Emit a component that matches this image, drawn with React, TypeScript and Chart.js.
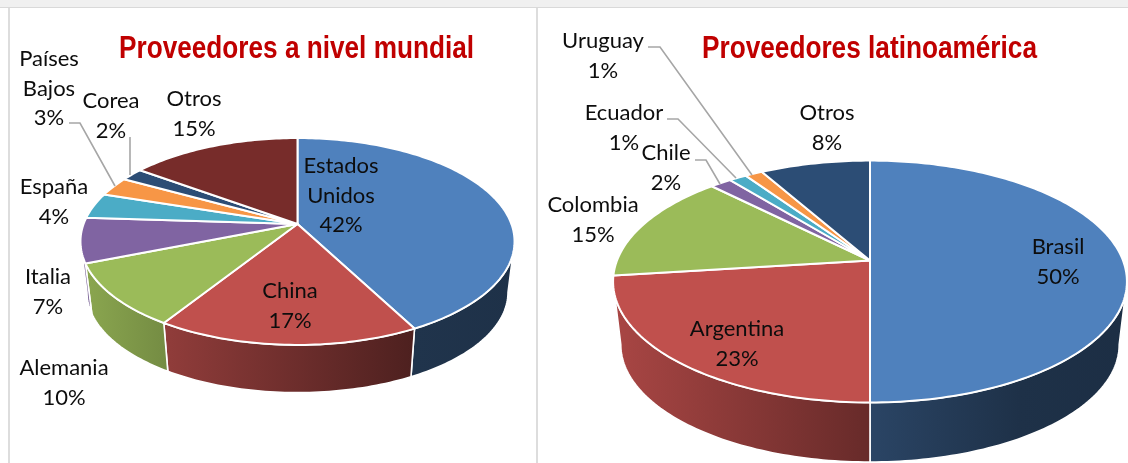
import React, { useEffect, useRef } from "react";
import { Chart, registerables } from "chart.js";

Chart.register(...registerables);

// ---- data ----
const worldCategories = ["Estados Unidos", "China", "Alemania", "Italia", "España", "Países Bajos", "Corea", "Otros"];
const worldValues = [42.3, 16.7, 10, 7, 4, 3, 2, 15];
const worldColors = ["#4F81BD", "#C0504D", "#9BBB59", "#8064A2", "#4BACC6", "#F79646", "#2C4D75", "#772C2A"];

const latamCategories = ["Brasil", "Argentina", "Colombia", "Chile", "Ecuador", "Uruguay", "Otros"];
const latamValues = [50, 23, 14.6, 1.6, 1.3, 1.3, 8.2];
const latamColors = ["#4F81BD", "#C0504D", "#9BBB59", "#8064A2", "#4BACC6", "#F79646", "#2C4D75"];

// ---- layout (page coordinates) ----
const LINE_H = 29.5;
const worldLabelPos = [[341, 166], [290, 291], [64, 368], [48, 277], [54, 187], [49, 59], [111, 101], [194, 99]];
const latamLabelPos = [[1058, 247], [737, 329], [593, 205], [666, 153], [624, 113], [603, 41], [827, 113]];
const worldLeaders = [[[69, 123], [80, 123], [115, 186]], [[130, 137], [130, 175]]];
const latamLeaders = [
  [[648, 47], [660, 47], [752, 175]],
  [[667, 119], [678, 119], [736, 178]],
  [[695, 160], [706, 160], [720, 184]],
];

type Geo = {
  cx: number; cy: number; a: number; b: number; k: number;
  depth: number; shrink: number;
  shade: number[][];
  titleX: number; titleW: number;
};
const worldGeo: Geo = {
  cx: 297.5, cy: 224, a: 100.5, b: 213.9, k: 0.169, depth: 51.3, shrink: 0.97,
  shade: [[80, 0.9], [160, 0.76], [415, 0.4], [514, 0.38]],
  titleX: 296.5, titleW: 355,
};
const latamGeo: Geo = {
  cx: 870, cy: 260.5, a: 117.3, b: 253, k: 0.174, depth: 63.8, shrink: 0.97,
  shade: [[613, 0.88], [875, 0.53], [1020, 0.38], [1127, 0.36]],
  titleX: 869.5, titleW: 335,
};

function hexRgb(h: string) {
  return [1, 3, 5].map((i) => parseInt(h.slice(i, i + 2), 16));
}

function tiltedPie(geo: Geo, ox: number, title: string, pos: number[][], leaders: number[][][]) {
  const proj = (al: number, low: boolean) => {
    const u = Math.cos(al), v = Math.sin(al);
    const d = 1 - geo.k * v;
    const s = low ? geo.shrink : 1;
    return [geo.cx - ox + (s * geo.b * u) / d, geo.cy + (low ? geo.depth : 0) + (s * geo.a * v) / d];
  };
  const samples = (a0: number, a1: number) => {
    const n = Math.max(2, Math.ceil(Math.abs(a1 - a0) / 0.02));
    const r: number[] = [];
    for (let i = 0; i <= n; i++) r.push(a0 + ((a1 - a0) * i) / n);
    return r;
  };
  return {
    id: "tiltedPie",
    beforeDatasetsDraw(chart: any) {
      const ctx: CanvasRenderingContext2D = chart.ctx;
      const arcs = chart.getDatasetMeta(0).data;
      const x0 = geo.shade[0][0], x1 = geo.shade[geo.shade.length - 1][0];
      const lo = Math.asin(geo.k), hi = Math.PI - lo;
      ctx.save();
      ctx.lineJoin = "round";
      arcs.forEach((arc: any) => {
        const s = arc.startAngle, e = arc.endAngle;
        const spans: number[][] = [];
        for (const off of [0, Math.PI * 2, -Math.PI * 2]) {
          const a = Math.max(s, lo + off), b = Math.min(e, hi + off);
          if (b > a) spans.push([a, b]);
        }
        const rgb = hexRgb(arc.options.backgroundColor);
        const g = ctx.createLinearGradient(x0 - ox, 0, x1 - ox, 0);
        geo.shade.forEach(([x, m]) => {
          g.addColorStop((x - x0) / (x1 - x0), `rgb(${rgb.map((c) => Math.round(c * m)).join(",")})`);
        });
        spans.forEach(([a, b]) => {
          ctx.beginPath();
          samples(a, b).forEach((t, i) => {
            const p = proj(t, false);
            i ? ctx.lineTo(p[0], p[1]) : ctx.moveTo(p[0], p[1]);
          });
          samples(b, a).forEach((t) => {
            const p = proj(t, true);
            ctx.lineTo(p[0], p[1]);
          });
          ctx.closePath();
          ctx.fillStyle = g;
          ctx.fill();
          ctx.strokeStyle = "#ffffff";
          ctx.lineWidth = 1.6;
          ctx.stroke();
        });
      });
      arcs.forEach((arc: any) => {
        ctx.beginPath();
        ctx.moveTo(geo.cx - ox, geo.cy);
        samples(arc.startAngle, arc.endAngle).forEach((t) => {
          const p = proj(t, false);
          ctx.lineTo(p[0], p[1]);
        });
        ctx.closePath();
        ctx.fillStyle = arc.options.backgroundColor;
        ctx.fill();
        ctx.strokeStyle = arc.options.borderColor;
        ctx.lineWidth = arc.options.borderWidth;
        ctx.stroke();
      });
      ctx.restore();
      return false;
    },
    afterDraw(chart: any) {
      const ctx: CanvasRenderingContext2D = chart.ctx;
      ctx.save();
      // title: bold grotesque narrowed horizontally
      ctx.font = "bold 32px 'Liberation Sans'";
      ctx.fillStyle = "#C00000";
      ctx.textAlign = "center";
      ctx.textBaseline = "alphabetic";
      const w = ctx.measureText(title).width;
      ctx.save();
      ctx.translate(geo.titleX - ox, 58);
      ctx.scale(geo.titleW / w, 1);
      ctx.fillText(title, 0, 0);
      ctx.restore();

      ctx.strokeStyle = "#A6A6A6";
      ctx.lineWidth = 1.6;
      leaders.forEach((pts) => {
        ctx.beginPath();
        pts.forEach(([x, y], i) => (i ? ctx.lineTo(x - ox, y) : ctx.moveTo(x - ox, y)));
        ctx.stroke();
      });
      ctx.fillStyle = "#0d0d0d";
      ctx.font = "22px Lato";
      ctx.textBaseline = "middle";
      const values = chart.data.datasets[0].data as number[];
      (chart.data.labels as string[]).forEach((name, i) => {
        const lines = [...name.split(" "), `${Math.round(values[i])}%`];
        lines.forEach((t, j) => ctx.fillText(t, pos[i][0] - ox, pos[i][1] + j * LINE_H));
      });
      ctx.restore();
    },
  };
}

function Pie(props: {
  title: string; labels: string[]; values: number[]; colors: string[];
  geo: Geo; left: number; width: number; pos: number[][]; leaders: number[][][];
}) {
  const ref = useRef<HTMLCanvasElement>(null);
  useEffect(() => {
    const chart = new Chart(ref.current as HTMLCanvasElement, {
      type: "pie",
      data: {
        labels: props.labels,
        datasets: [{
          data: props.values,
          backgroundColor: props.colors,
          borderColor: "#ffffff",
          borderWidth: 2,
        }],
      },
      options: {
        responsive: false,
        animation: false,
        plugins: {
          legend: { display: false },
          tooltip: { enabled: false },
          title: { display: false },
        },
      },
      plugins: [tiltedPie(props.geo, props.left, props.title, props.pos, props.leaders)],
    } as any);
    return () => chart.destroy();
  }, []);
  return (
    <canvas
      ref={ref}
      width={props.width}
      height={463}
      style={{ position: "absolute", left: props.left, top: 0, width: props.width, height: 463 }}
    />
  );
}

const band = (s: React.CSSProperties) => <div style={{ position: "absolute", ...s }} />;

export default function App() {
  return (
    <div style={{ position: "fixed", left: 0, top: 0, width: 1128, height: 463, background: "#ffffff", overflow: "hidden" }}>
      {band({ left: 0, top: 0, width: 1128, height: 7, background: "#F0F0F0" })}
      {band({ left: 0, top: 7, width: 1128, height: 1, background: "#D9D9D9" })}
      {band({ left: 8, top: 8, width: 2, height: 455, background: "#DDDDDD" })}
      {band({ left: 536, top: 8, width: 2, height: 455, background: "#DDDDDD" })}
      <Pie title="Proveedores a nivel mundial" labels={worldCategories} values={worldValues} colors={worldColors}
        geo={worldGeo} left={0} width={537} pos={worldLabelPos} leaders={worldLeaders} />
      <Pie title="Proveedores latinoamérica" labels={latamCategories} values={latamValues} colors={latamColors}
        geo={latamGeo} left={537} width={591} pos={latamLabelPos} leaders={latamLeaders} />
    </div>
  );
}
